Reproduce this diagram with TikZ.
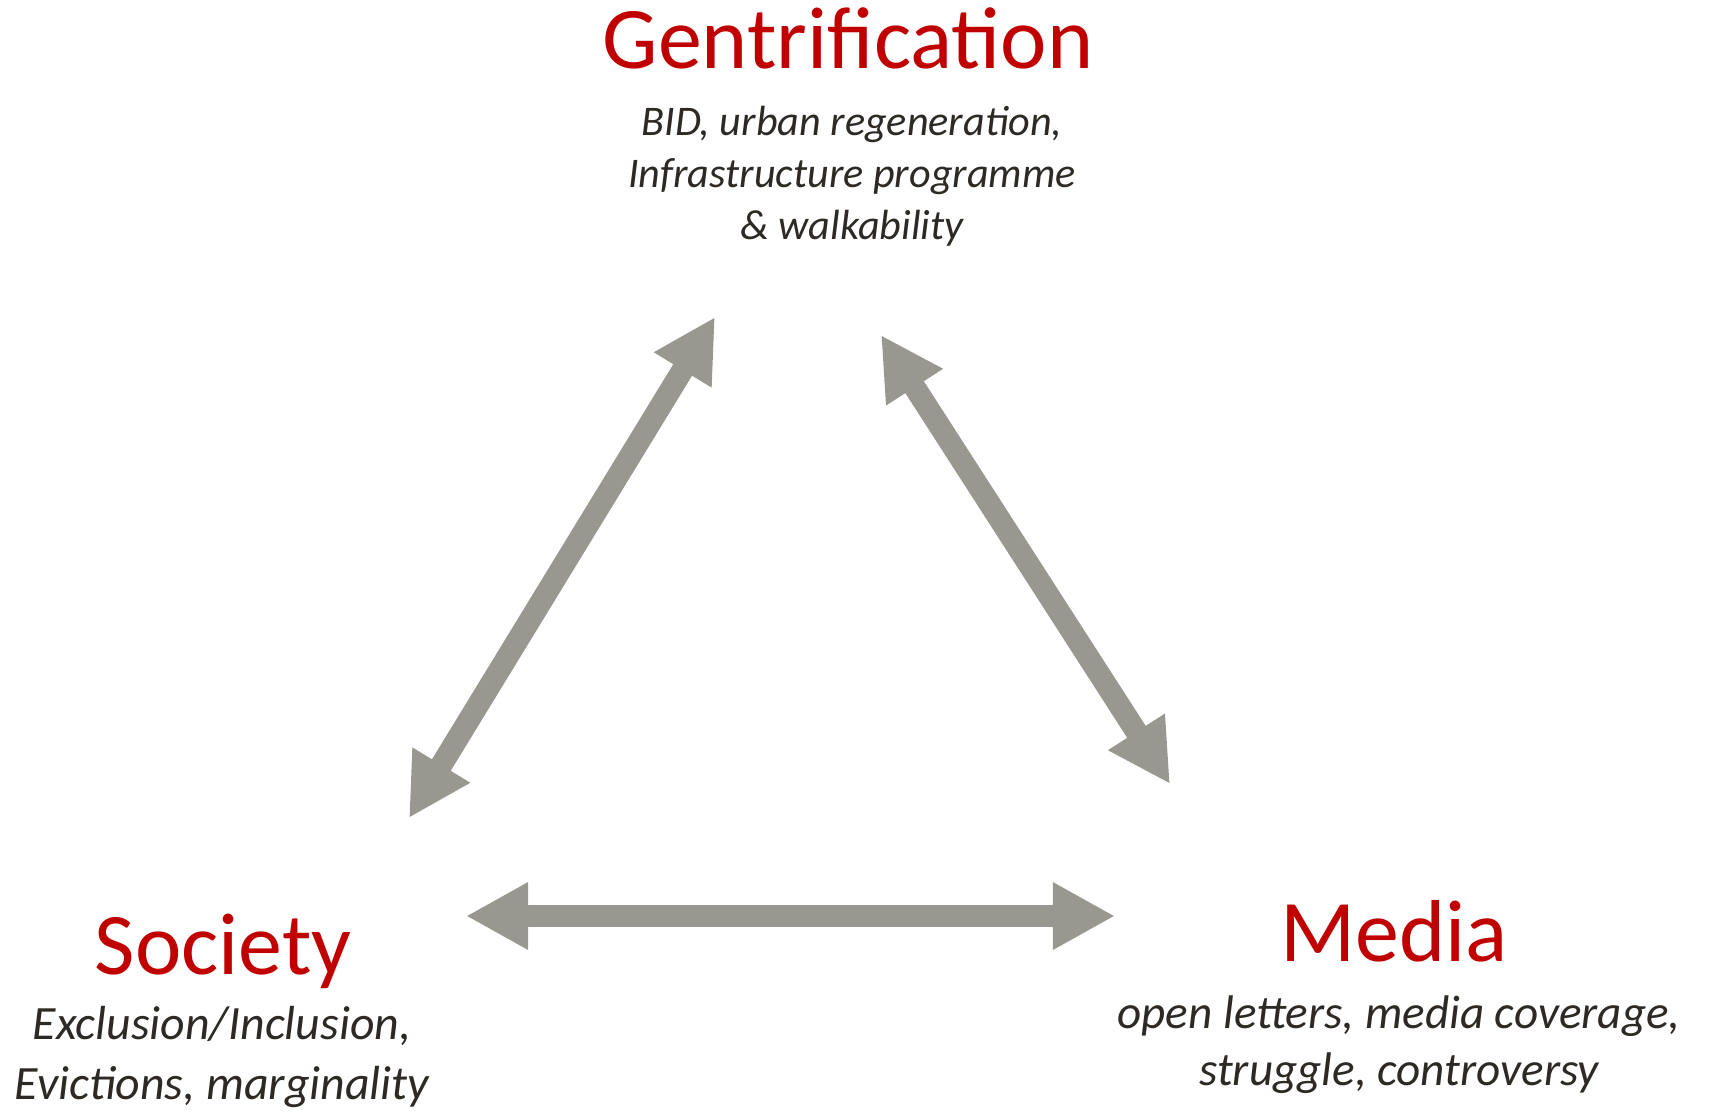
\documentclass[tikz,border=0pt]{standalone}
\usepackage{fontspec}
\setmainfont{Carlito}
\usetikzlibrary{arrows.meta}
\definecolor{titlered}{HTML}{C00000}
\definecolor{bodyink}{HTML}{2D2A25}
\definecolor{linkgrey}{HTML}{999890}
\begin{document}
\begin{tikzpicture}[x=0.01cm,y=-0.01cm]
        \tikzstyle{title}=[text=titlered, font=\fontsize{25}{30}\selectfont, inner sep=0pt, anchor=base]
        \tikzstyle{desc}=[text=bodyink, font=\itshape\fontsize{12}{14.7}\selectfont, align=center, inner sep=0pt, anchor=base]
        \tikzstyle{link}=[draw=linkgrey, line width=0.22cm, {Triangle[length=0.62cm,width=0.63cm]}-{Triangle[length=0.62cm,width=0.63cm]}]

        \useasboundingbox (0,0) rectangle (1713,1112);

        \node[title] (gen) at (848,68) {Gentrification};
        \node[desc] (gendesc) at (852,239) {BID, urban regeneration,\\Infrastructure programme\\\& walkability};

        \node[title] (soc) at (223,974) {Society};
        \node[desc, font=\itshape\fontsize{13.6}{16.8}\selectfont] (socdesc) at (222,1099) {Exclusion/Inclusion,\\Evictions, marginality};

        \node[title] (med) at (1394,961) {Media};
        \node[desc, font=\itshape\fontsize{13.4}{16.2}\selectfont] (meddesc) at (1399,1085) {open letters, media coverage,\\struggle, controversy};

        \coordinate (gen-l) at (715,317);
        \coordinate (gen-r) at (881,335);
        \coordinate (soc-t) at (409,818);
        \coordinate (soc-r) at (466,916);
        \coordinate (med-t) at (1170,784);
        \coordinate (med-l) at (1115,916);

        \draw[link] (soc-t) -- (gen-l);
        \draw[link] (gen-r) -- (med-t);
        \draw[link] (soc-r) -- (med-l);
    \end{tikzpicture}
\end{document}
